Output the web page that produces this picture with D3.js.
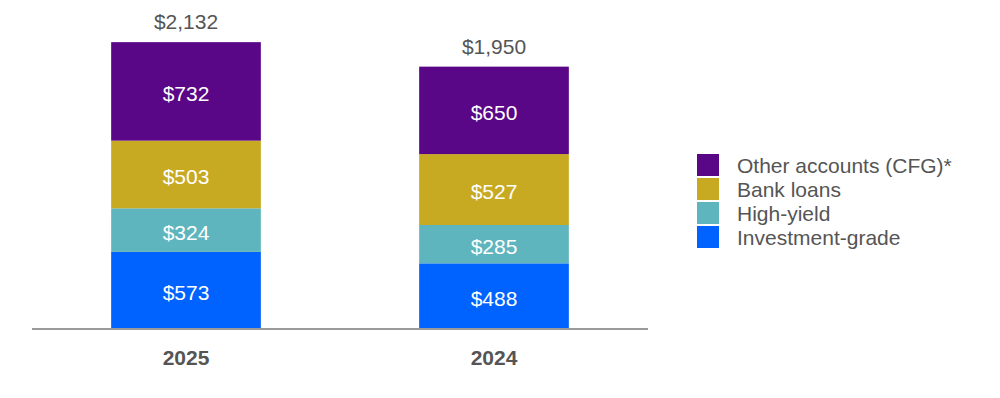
<!DOCTYPE html>
<html>
<head>
<meta charset="utf-8">
<script src="https://cdn.jsdelivr.net/npm/d3@7"></script>
<style>
  body { margin: 0; background: #fff; }
  text { font-family: "Liberation Sans", Arial, sans-serif; }
</style>
</head>
<body>
<div id="chart"></div>
<script>
// data
const years = ['2025', '2024'];
const seriesNames = ['Investment-grade', 'High-yield', 'Bank loans', 'Other accounts (CFG)*'];
const investmentGrade = [573, 488];
const highYield = [324, 285];
const bankLoans = [503, 527];
const otherAccounts = [732, 650];
const totals = [2132, 1950];
const colors = ['#0062ff', '#5fb5bd', '#c8a922', '#5a0787'];

const width = 1000, height = 398;

const svg = d3.select('#chart')
  .append('svg')
  .attr('width', width)
  .attr('height', height);

const rows = years.map((yr, i) => ({
  year: yr,
  'Investment-grade': investmentGrade[i],
  'High-yield': highYield[i],
  'Bank loans': bankLoans[i],
  'Other accounts (CFG)*': otherAccounts[i],
  total: totals[i],
}));

const x = d3.scaleBand()
  .domain(years)
  .range([32, 648])
  .paddingInner(0.514)
  .paddingOuter(0.257);

const y = d3.scaleLinear()
  .domain([0, 2200])
  .range([329, 33]);

const stack = d3.stack().keys(seriesNames);
const layers = stack(rows);

const layer = svg.append('g')
  .selectAll('g')
  .data(layers)
  .enter()
  .append('g')
  .attr('fill', (d, i) => colors[i]);

layer.selectAll('rect')
  .data(d => d)
  .enter()
  .append('rect')
  .attr('x', d => x(d.data.year))
  .attr('width', x.bandwidth())
  .attr('y', d => y(d[1]))
  .attr('height', d => y(d[0]) - y(d[1]));

// segment labels
layer.selectAll('text')
  .data(d => d)
  .enter()
  .append('text')
  .attr('x', d => x(d.data.year) + x.bandwidth() / 2)
  .attr('y', d => (y(d[0]) + y(d[1])) / 2)
  .attr('dy', '0.46em')
  .attr('text-anchor', 'middle')
  .attr('fill', '#fff')
  .attr('font-size', 21)
  .text(d => '$' + d3.format(',')(d[1] - d[0]));

// totals
svg.append('g')
  .selectAll('text')
  .data(rows)
  .enter()
  .append('text')
  .attr('x', d => x(d.year) + x.bandwidth() / 2)
  .attr('y', d => y(d.total) - 13)
  .attr('text-anchor', 'middle')
  .attr('fill', '#555')
  .attr('font-size', 21)
  .text(d => '$' + d3.format(',')(d.total));

// baseline
svg.append('line')
  .attr('x1', 32)
  .attr('x2', 648)
  .attr('y1', y(0))
  .attr('y2', y(0))
  .attr('stroke', '#9a9a9a')
  .attr('stroke-width', 2);

// x axis labels
const xAxis = svg.append('g')
  .attr('transform', `translate(0, ${y(0)})`)
  .call(d3.axisBottom(x).tickSize(0).tickPadding(21));
xAxis.select('.domain').remove();
xAxis.selectAll('text')
  .attr('font-size', 21)
  .attr('font-weight', 'bold')
  .attr('fill', '#555')
  .style('font-family', '"Liberation Sans", Arial, sans-serif');

// legend
const legendItems = seriesNames.slice().reverse();
const legendColors = colors.slice().reverse();
const legend = svg.append('g')
  .attr('transform', 'translate(697, 154)');

const item = legend.selectAll('g')
  .data(legendItems)
  .enter()
  .append('g')
  .attr('transform', (d, i) => `translate(0, ${i * 24})`);

item.append('rect')
  .attr('width', 22)
  .attr('height', 22)
  .attr('fill', (d, i) => legendColors[i]);

item.append('text')
  .attr('x', 40)
  .attr('y', 11)
  .attr('dy', '0.36em')
  .attr('font-size', 21)
  .attr('fill', '#555')
  .text(d => d);
</script>
</body>
</html>
